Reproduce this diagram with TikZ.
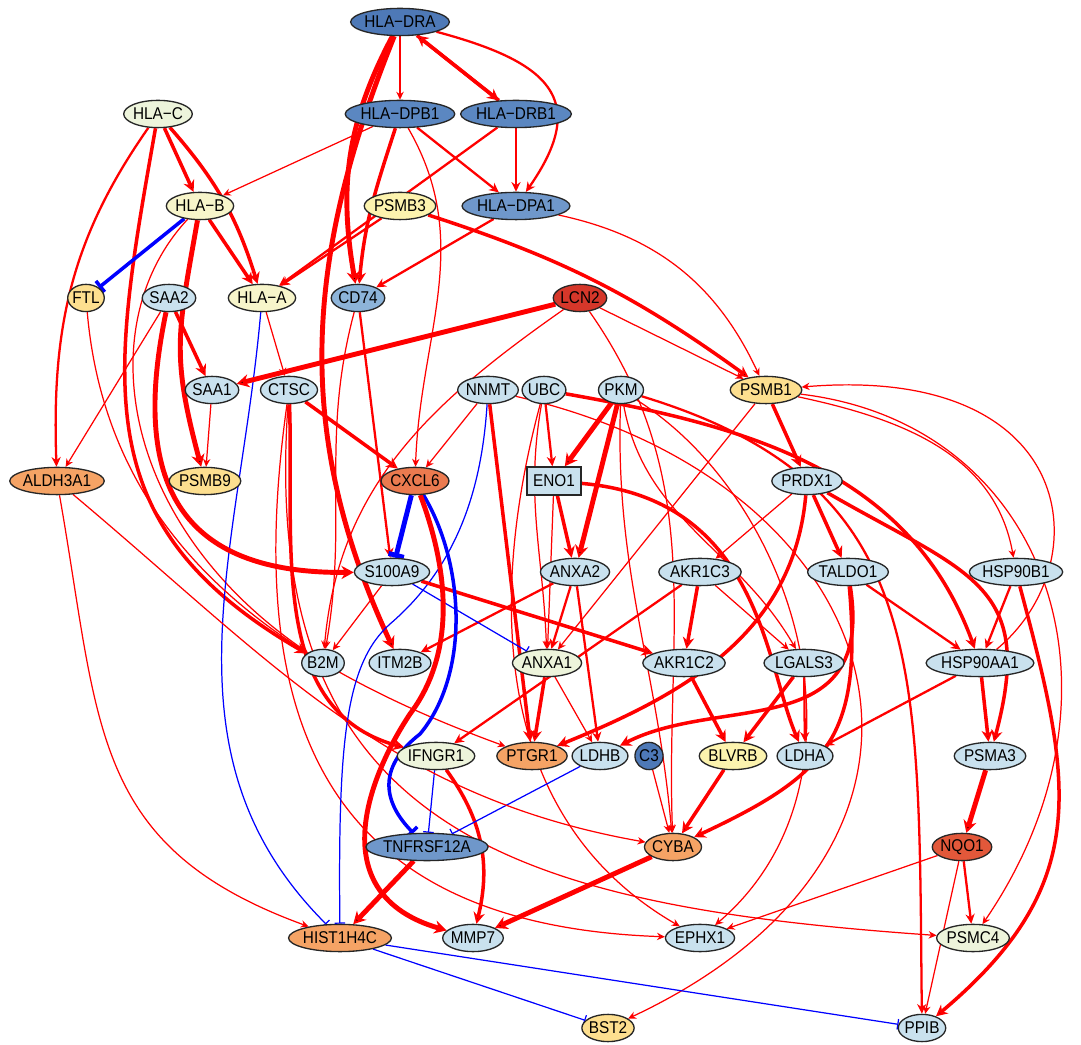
\documentclass[tikz,border=0pt]{standalone}
\usepackage{fontspec}
\setmainfont{Liberation Sans}
\newfontfamily\genefont[FakeStretch=0.9]{Liberation Sans}
\usetikzlibrary{shapes.geometric,arrows.meta,backgrounds}
\definecolor{dkblue}{HTML}{4E79B7}
\definecolor{mdblue}{HTML}{5B87C1}
\definecolor{hlblue}{HTML}{6F97CA}
\definecolor{cdblue}{HTML}{8DB4D9}
\definecolor{ltblue}{HTML}{C9E1EE}
\definecolor{palegr}{HTML}{EDF4DB}
\definecolor{paleyl}{HTML}{F7F5CA}
\definecolor{lemon}{HTML}{FCF3AE}
\definecolor{golden}{HTML}{FDDF8F}
\definecolor{apricot}{HTML}{F5A365}
\definecolor{coral}{HTML}{EB7A4F}
\definecolor{crimson}{HTML}{D5372A}
\definecolor{tomato}{HTML}{E2583A}

\begin{document}
\begin{tikzpicture}[x=0.02cm,y=0.02cm]
	\tikzstyle{gene}=[ellipse,draw=black!85,line width=0.75pt,inner xsep=-0.4pt,inner ysep=0pt,minimum height=15.5pt,font=\genefont\fontsize{9.7}{11}\selectfont]
	\tikzstyle{genebox}=[rectangle,draw=black!85,line width=0.75pt,inner xsep=3.5pt,inner ysep=0pt,minimum height=16pt,font=\genefont\fontsize{9.7}{11}\selectfont]
	\tikzstyle{act1}=[draw=red,line width=0.7pt,-{Stealth[length=4.5pt,width=4.2pt]}]
	\tikzstyle{act2}=[draw=red,line width=1.3pt,-{Stealth[length=5.5pt,width=5.2pt]}]
	\tikzstyle{act3}=[draw=red,line width=2pt,-{Stealth[length=6.5pt,width=6.5pt]}]
	\tikzstyle{act4}=[draw=red,line width=2.8pt,-{Stealth[length=7pt,width=7.5pt]}]
	\tikzstyle{inh1}=[draw=blue,line width=0.7pt,-{Bar[width=6pt]}]
	\tikzstyle{inh3}=[draw=blue,line width=2pt,-{Bar[width=8pt]}]
	\tikzstyle{inh4}=[draw=blue,line width=2.8pt,-{Bar[width=9pt]}]
	\useasboundingbox (0,0) rectangle (1081,1044);
		\node[gene, fill=dkblue] (hladra) at (400,1022) {HLA−DRA};
		\node[gene, fill=mdblue] (hladpb1) at (400,930) {HLA−DPB1};
		\node[gene, fill=mdblue] (hladrb1) at (516,930) {HLA−DRB1};
		\node[gene, fill=palegr] (hlac) at (158,930) {HLA−C};
		\node[gene, fill=paleyl] (hlab) at (200,838) {HLA−B};
		\node[gene, fill=lemon] (psmb3) at (400,838) {PSMB3};
		\node[gene, fill=hlblue] (hladpa1) at (516,838) {HLA−DPA1};
		\node[gene, fill=golden] (ftl) at (86,746) {FTL};
		\node[gene, fill=ltblue] (saa2) at (169,746) {SAA2};
		\node[gene, fill=paleyl] (hlaa) at (262,746) {HLA−A};
		\node[gene, fill=cdblue] (cd74) at (358,746) {CD74};
		\node[gene, fill=crimson] (lcn2) at (580,746) {LCN2};
		\node[gene, fill=ltblue] (saa1) at (212,654) {SAA1};
		\node[gene, fill=ltblue] (ctsc) at (289,654) {CTSC};
		\node[gene, fill=ltblue] (nnmt) at (488,654) {NNMT};
		\node[gene, fill=ltblue] (ubc) at (544,654) {UBC};
		\node[gene, fill=ltblue] (pkm) at (621,654) {PKM};
		\node[gene, fill=golden] (psmb1) at (766,654) {PSMB1};
		\node[gene, fill=apricot] (aldh3a1) at (57,563) {ALDH3A1};
		\node[gene, fill=golden] (psmb9) at (205,563) {PSMB9};
		\node[gene, fill=coral] (cxcl6) at (415,563) {CXCL6};
		\node[genebox, fill=ltblue] (eno1) at (554,563) {ENO1};
		\node[gene, fill=ltblue] (prdx1) at (807,563) {PRDX1};
		\node[gene, fill=ltblue] (s100a9) at (392,472) {S100A9};
		\node[gene, fill=ltblue] (anxa2) at (575,472) {ANXA2};
		\node[gene, fill=ltblue] (akr1c3) at (700,472) {AKR1C3};
		\node[gene, fill=ltblue] (taldo1) at (848,472) {TALDO1};
		\node[gene, fill=ltblue] (hsp90b1) at (1016,472) {HSP90B1};
		\node[gene, fill=ltblue] (b2m) at (323,381) {B2M};
		\node[gene, fill=ltblue] (itm2b) at (400,381) {ITM2B};
		\node[gene, fill=palegr] (anxa1) at (547,381) {ANXA1};
		\node[gene, fill=ltblue] (akr1c2) at (684,381) {AKR1C2};
		\node[gene, fill=ltblue] (lgals3) at (804,381) {LGALS3};
		\node[gene, fill=ltblue] (hsp90aa1) at (980,381) {HSP90AA1};
		\node[gene, fill=palegr] (ifngr1) at (436,288) {IFNGR1};
		\node[gene, fill=apricot] (ptgr1) at (532,288) {PTGR1};
		\node[gene, fill=ltblue] (ldhb) at (600,288) {LDHB};
		\node[gene, fill=dkblue, minimum width=16pt, inner xsep=0pt] (c3) at (649,288) {C3};
		\node[gene, fill=lemon] (blvrb) at (733,288) {BLVRB};
		\node[gene, fill=ltblue] (ldha) at (805,288) {LDHA};
		\node[gene, fill=ltblue] (psma3) at (990,288) {PSMA3};
		\node[gene, fill=hlblue] (tnfrsf12a) at (427,197) {TNFRSF12A};
		\node[gene, fill=apricot] (cyba) at (673,197) {CYBA};
		\node[gene, fill=tomato] (nqo1) at (962,197) {NQO1};
		\node[gene, fill=apricot] (hist1h4c) at (340,106) {HIST1H4C};
		\node[gene, fill=ltblue] (mmp7) at (473,106) {MMP7};
		\node[gene, fill=ltblue] (ephx1) at (700,106) {EPHX1};
		\node[gene, fill=palegr] (psmc4) at (973,106) {PSMC4};
		\node[gene, fill=golden] (bst2) at (608,16) {BST2};
		\node[gene, fill=ltblue] (ppib) at (922,16) {PPIB};
	\begin{scope}[on background layer]
		\fill[white] (0,0) rectangle (1081,1044);
			\draw[act1] (hladra) edge (hladpb1);
			\draw[act3] (hladra) edge (hladrb1);
			\draw[act3] (hladrb1) edge (hladra);
			\draw[act2] (hladra) edge[out=-15,in=55,looseness=1.6] (hladpa1);
			\draw[act4] (hladra) edge[out=-118,in=100] (cd74);
			\draw[act4] (hladra) edge[out=-112,in=115] (itm2b);
			\draw[act1] (hladpb1) edge (hlab);
			\draw[act3] (hladpb1) edge[out=-108,in=85] (cd74);
			\draw[act2] (hladpb1) edge (hladpa1);
			\draw[act1] (hladpb1) edge[out=-60,in=88] (cxcl6);
			\draw[act2] (hladrb1) edge (hladpa1);
			\draw[act2] (hladrb1) edge (hlaa);
			\draw[act3] (hlac) edge (hlab);
			\draw[act3] (hlac) edge[bend left=12] (hlaa);
			\draw[act2] (hlac) edge[out=-125,in=92] (aldh3a1);
			\draw[act3] (hlac) edge[out=-100,in=150,looseness=1.2] (b2m);
			\draw[act3] (hlab) edge (hlaa);
			\draw[inh3] (hlab) edge (ftl);
			\draw[act4] (hlab) edge[out=-100,in=105,looseness=1.2] (psmb9);
			\draw[act1] (hlab) .. controls (90,720) and (120,520) .. (b2m);
			\draw[act2] (psmb3) edge (hlaa);
			\draw[act3] (psmb3) edge[bend left=9] (psmb1);
			\draw[act2] (hladpa1) edge (cd74);
			\draw[act1] (hladpa1) edge[out=-12,in=115] (psmb1);
			\draw[act1] (hlaa) edge (ctsc);
			\draw[inh1] (hlaa) edge[out=-95,in=135] (hist1h4c);
			\draw[act3] (saa2) edge (saa1);
			\draw[act4] (saa2) .. controls (130,560) and (180,470) .. (s100a9);
			\draw[act1] (saa2) edge (aldh3a1);
			\draw[act4] (lcn2) edge (saa1);
			\draw[act1] (lcn2) edge (psmb1);
			\draw[act1] (lcn2) edge[out=-145,in=85] (b2m);
			\draw[act1] (lcn2) edge[out=-55,in=92] (cyba);
			\draw[act1] (ftl) edge[out=-85,in=160] (ptgr1);
			\draw[act2] (cd74) edge (s100a9);
			\draw[act1] (cd74) edge[out=-105,in=80] (b2m);
			\draw[act1] (saa1) edge (psmb9);
			\draw[act3] (ctsc) edge (cxcl6);
			\draw[act3] (ctsc) edge[out=-88,in=165] (ifngr1);
			\draw[act1] (ctsc) edge[out=-98,in=178,looseness=1.3] (ephx1);
			\draw[act1] (ctsc) edge[out=-94,in=176,looseness=1.3] (psmc4);
			\draw[act1] (nnmt) edge (cxcl6);
			\draw[act3] (nnmt) edge (ptgr1);
			\draw[inh1] (nnmt) .. controls (482,560) and (460,480) .. (390,420) .. controls (345,380) and (338,300) .. (hist1h4c);
			\draw[act1] (nnmt) .. controls (900,560) and (1000,200) .. (bst2);
			\draw[act2] (ubc) edge (eno1);
			\draw[act3] (ubc) edge[out=-10,in=110] (hsp90aa1);
			\draw[act1] (ubc) edge[out=-100,in=92] (anxa1);
			\draw[act1] (ubc) edge[out=-105,in=150] (ephx1);
			\draw[act4] (pkm) edge (eno1);
			\draw[act4] (pkm) edge (anxa2);
			\draw[act1] (pkm) edge[out=-92,in=95] (cyba);
			\draw[act1] (pkm) edge[out=-80,in=120] (lgals3);
			\draw[act2] (pkm) .. controls (930,560) and (918,380) .. (ppib);
			\draw[act1] (pkm) .. controls (800,540) and (880,260) .. (ephx1);
			\draw[act3] (psmb1) edge (prdx1);
			\draw[act1] (psmb1) edge[out=-12,in=100] (hsp90b1);
			\draw[act1] (psmb1) edge (anxa1);
			\draw[act1] (psmb1) .. controls (1050,620) and (1140,350) .. (psmc4);
			\draw[act1] (hsp90aa1) .. controls (1100,480) and (1080,680) .. (psmb1);
			\draw[act1] (prdx1) edge (akr1c3);
			\draw[act3] (prdx1) edge (taldo1);
			\draw[act3] (prdx1) edge[out=-30,in=75,looseness=1.4] (psma3);
			\draw[act3] (prdx1) edge[out=-95,in=22] (ptgr1);
			\draw[act2] (hsp90b1) edge (hsp90aa1);
			\draw[act3] (hsp90b1) edge[out=-75,in=40,looseness=1.2] (ppib);
			\draw[act2] (taldo1) edge (hsp90aa1);
			\draw[act3] (taldo1) edge[out=-85,in=25,looseness=1.3] (cyba);
			\draw[act3] (taldo1) .. controls (875,300) and (720,350) .. (ldhb);
			\draw[act3] (eno1) edge (anxa2);
			\draw[act1] (eno1) edge (anxa1);
			\draw[act3] (eno1) .. controls (760,545) and (765,380) .. (ldha);
			\draw[act3] (akr1c3) edge (akr1c2);
			\draw[act1] (akr1c3) edge (lgals3);
			\draw[act2] (akr1c3) edge (ifngr1);
			\draw[act3] (akr1c2) edge (blvrb);
			\draw[act3] (lgals3) edge (blvrb);
			\draw[act2] (lgals3) edge (ldha);
			\draw[act3] (hsp90aa1) edge (psma3);
			\draw[act2] (hsp90aa1) edge (ldha);
			\draw[act2] (anxa2) edge (itm2b);
			\draw[act2] (anxa2) edge (anxa1);
			\draw[act2] (anxa2) edge (ldhb);
			\draw[act3] (anxa1) edge (ptgr1);
			\draw[act1] (anxa1) edge (ldhb);
			\draw[act3] (s100a9) edge (akr1c2);
			\draw[inh1] (s100a9) edge (anxa1);
			\draw[act1] (s100a9) edge (b2m);
			\draw[inh4] (cxcl6) edge (s100a9);
			\draw[inh3] (cxcl6) .. controls (465,480) and (470,370) .. (420,310) .. controls (375,275) and (385,240) .. (tnfrsf12a);
			\draw[act4] (cxcl6) .. controls (450,470) and (455,390) .. (410,330) .. controls (370,270) and (320,150) .. (mmp7);
			\draw[inh1] (ifngr1) edge (tnfrsf12a);
			\draw[act3] (ifngr1) edge[bend left=25] (mmp7);
			\draw[inh1] (ldhb) edge (tnfrsf12a);
			\draw[act1] (c3) edge (cyba);
			\draw[act3] (blvrb) edge (cyba);
			\draw[act4] (tnfrsf12a) edge (hist1h4c);
			\draw[act4] (cyba) edge (mmp7);
			\draw[act4] (psma3) edge (nqo1);
			\draw[act2] (nqo1) edge (psmc4);
			\draw[act1] (nqo1) edge (ppib);
			\draw[act1] (nqo1) edge (ephx1);
			\draw[inh1] (hist1h4c) edge (bst2);
			\draw[inh1] (hist1h4c) edge (ppib);
			\draw[act1] (aldh3a1) edge[out=-80,in=160,looseness=1.2] (hist1h4c);
			\draw[act1] (aldh3a1) edge[out=-40,in=170] (cyba);
	\end{scope}
\end{tikzpicture}
\end{document}
